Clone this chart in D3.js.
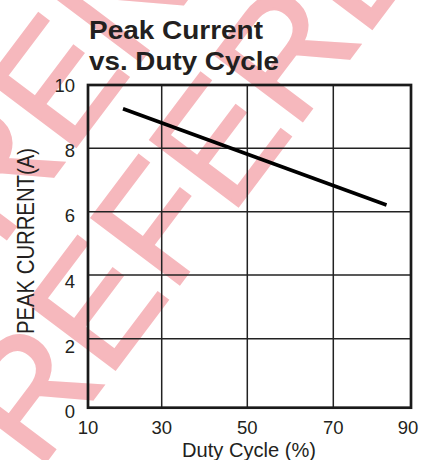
<!DOCTYPE html>
<html>
<head>
<meta charset="utf-8">
<script src="https://cdn.jsdelivr.net/npm/d3@7"></script>
<style>
  body { margin: 0; background: #fff; }
  svg { display: block; font-family: "Liberation Sans", Arial, sans-serif; }
</style>
</head>
<body>
<div id="chart"></div>
<script>
// chart data
var xTicks = [10, 30, 50, 70, 90];
var yTicks = [0, 2, 4, 6, 8, 10];
var dutyCycle = [19.5, 83.7];
var peakCurrent = [9.25, 6.21];
var titleLines = ["Peak Current", "vs. Duty Cycle"];
var xTitle = "Duty Cycle (%)";
var yTitle = "PEAK CURRENT(A)";
var watermark = "REFERENCE";

var svgWidth = 422;
var svgHeight = 460;

var svg = d3.select("#chart")
  .append("svg")
  .attr("width", svgWidth)
  .attr("height", svgHeight);

// pink watermark behind everything (two diagonal rows)
svg.append("g")
  .selectAll("text")
  .data([[38, 472], [-258, 590]])
  .enter()
  .append("text")
  .attr("transform", d => `translate(${d[0]}, ${d[1]}) rotate(-53)`)
  .attr("font-size", "160px")
  .attr("fill", "#f6b8bd")
  .attr("stroke", "#f6b8bd")
  .attr("stroke-width", 2.5)
  .text(watermark);

// scales (grid in the source is not evenly spaced)
var x = d3.scaleLinear()
  .domain(xTicks)
  .range([88, 161.7, 247.3, 333.3, 411]);

var y = d3.scaleLinear()
  .domain(yTicks)
  .range([407.7, 338.7, 275, 211.7, 148.3, 85]);

// tick labels sit on an even spacing
var yLabel = d3.scaleLinear()
  .domain([0, 10])
  .range([411.7, 85]);

// grid lines
var grid = svg.append("g")
  .attr("stroke", "#222")
  .attr("stroke-width", 1.5);

grid.selectAll("line.vx")
  .data(xTicks.slice(1, -1))
  .enter()
  .append("line")
  .attr("class", "vx")
  .attr("x1", d => x(d))
  .attr("x2", d => x(d))
  .attr("y1", y(0))
  .attr("y2", y(10));

grid.selectAll("line.hy")
  .data(yTicks.slice(1, -1))
  .enter()
  .append("line")
  .attr("class", "hy")
  .attr("x1", x(10))
  .attr("x2", x(90))
  .attr("y1", d => y(d))
  .attr("y2", d => y(d));

// frame
svg.append("rect")
  .attr("x", x(10))
  .attr("y", y(10))
  .attr("width", x(90) - x(10))
  .attr("height", y(0) - y(10))
  .attr("fill", "none")
  .attr("stroke", "#1a1a1a")
  .attr("stroke-width", 2.7);

// data line
var line = d3.line()
  .x(d => x(d[0]))
  .y(d => y(d[1]));

svg.append("path")
  .datum(d3.zip(dutyCycle, peakCurrent))
  .attr("d", line)
  .attr("fill", "none")
  .attr("stroke", "#000")
  .attr("stroke-width", 3.6);

// x tick labels
svg.selectAll("text.xt")
  .data(xTicks)
  .enter()
  .append("text")
  .attr("class", "xt")
  .attr("x", d => x(d))
  .attr("dx", (d, i) => i === xTicks.length - 1 ? -3 : 0)
  .attr("y", 433.5)
  .attr("text-anchor", "middle")
  .attr("font-size", "18.5px")
  .attr("fill", "#231f20")
  .text(d => d);

// y tick labels
svg.selectAll("text.yt")
  .data(yTicks)
  .enter()
  .append("text")
  .attr("class", "yt")
  .attr("x", 75)
  .attr("y", d => yLabel(d) + 6.6)
  .attr("text-anchor", "end")
  .attr("font-size", "18.5px")
  .attr("fill", "#231f20")
  .text(d => d);

// title
svg.selectAll("text.title")
  .data(titleLines)
  .enter()
  .append("text")
  .attr("class", "title")
  .attr("x", 89)
  .attr("y", (d, i) => 38.5 + i * 31.7)
  .attr("font-size", "25px")
  .attr("font-weight", "bold")
  .attr("fill", "#231f20")
  .attr("textLength", (d, i) => i === 0 ? 174 : 190)
  .attr("lengthAdjust", "spacingAndGlyphs")
  .text(d => d);

// axis titles
svg.append("text")
  .attr("x", 249)
  .attr("y", 456.5)
  .attr("text-anchor", "middle")
  .attr("font-size", "19.5px")
  .attr("fill", "#231f20")
  .attr("textLength", 134)
  .attr("lengthAdjust", "spacingAndGlyphs")
  .text(xTitle);

svg.append("text")
  .attr("transform", "translate(34, 241) rotate(-90)")
  .attr("text-anchor", "middle")
  .attr("font-size", "24px")
  .attr("fill", "#231f20")
  .attr("textLength", 186)
  .attr("lengthAdjust", "spacingAndGlyphs")
  .text(yTitle);
</script>
</body>
</html>
